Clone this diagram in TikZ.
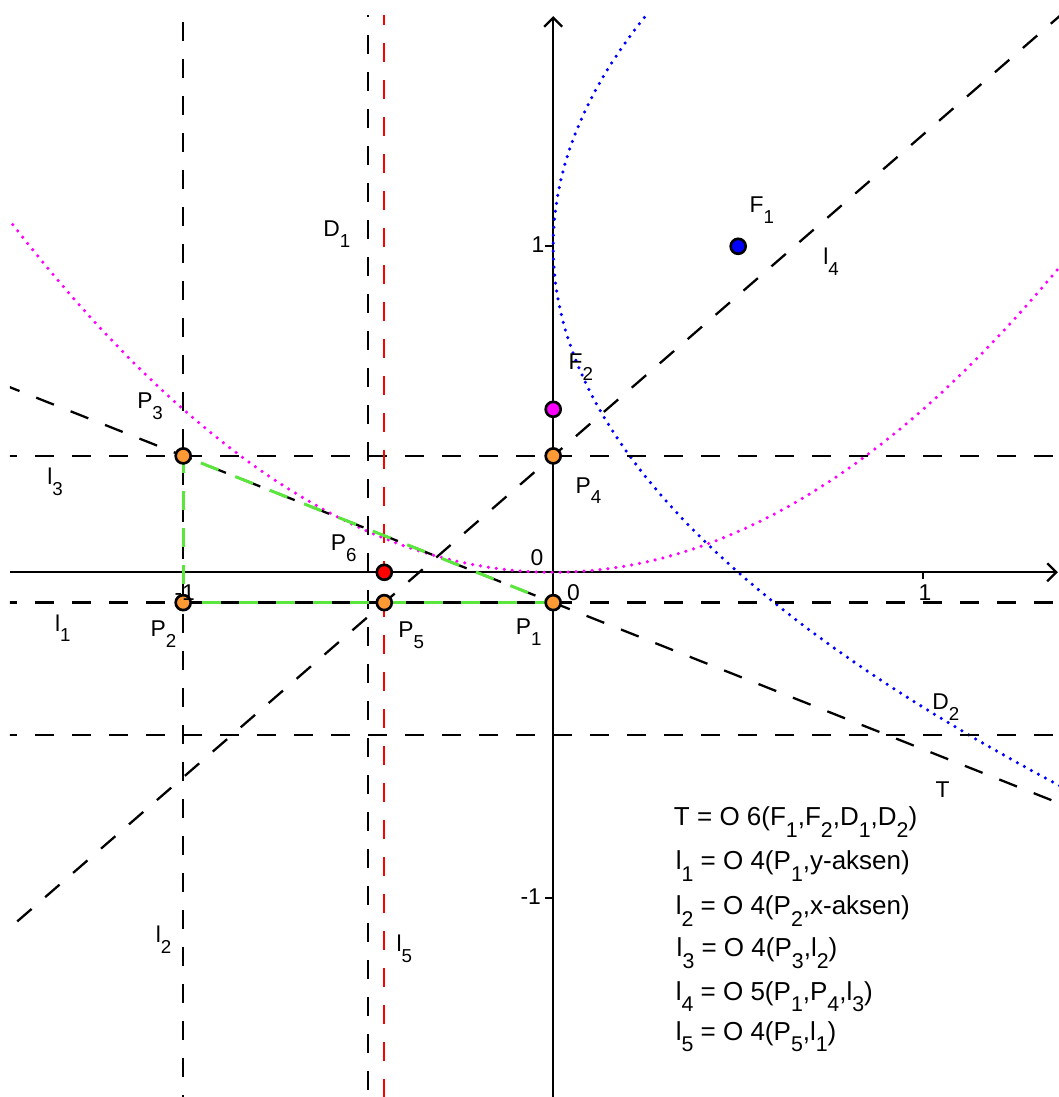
\documentclass[tikz,border=0pt]{standalone}
\usepackage{fontspec}
\setmainfont{Liberation Sans}
\usetikzlibrary{arrows.meta, calc}
\definecolor{ptorange}{RGB}{255,153,51}
\definecolor{foldgreen}{RGB}{90,230,60}
\definecolor{parpink}{RGB}{255,0,255}
\newcommand{\ix}[1]{\raisebox{-0.45em}{\scalebox{0.82}{#1}}}

\begin{document}
\begin{tikzpicture}[x=3.70cm, y=3.26cm,
  fold/.style={line width=0.65pt, dash pattern=on 0.19cm off 0.18cm},
  seg/.style={foldgreen, line width=0.85pt, dash pattern=on 0.19cm off 0.18cm, dash phase=0.18cm},
  curve/.style={line width=1pt, line cap=round, dash pattern=on 0pt off 0.08cm},
  ax/.style={line width=0.65pt},
  ptmark/.style={draw=black, line width=0.75pt},
  lab/.style={anchor=base west, inner sep=0pt, font=\fontsize{6.5}{7.5}\selectfont},
  eq/.style={anchor=base west, inner sep=0pt, font=\fontsize{7.4}{8.8}\selectfont}
]
  \useasboundingbox[fill=white] (-1.4951,-1.6095) rectangle (1.3670,1.7555);

  % construction points
  \coordinate (P1) at (0,-0.093);
  \coordinate (P2) at (-1,-0.093);
  \coordinate (P3) at (-1,0.357);
  \coordinate (P4) at (0,0.357);
  \coordinate (P5) at (-0.4565,-0.093);
  \coordinate (P6) at (-0.4565,0);
  \coordinate (F1) at (0.5,1);
  \coordinate (F2) at (0,0.5);
  \coordinate (D1a) at (-0.5,-1.7);
  \coordinate (D1b) at (-0.5,1.8);
  \coordinate (D2a) at (-1.6,-0.5);
  \coordinate (D2b) at (1.5,-0.5);
  \coordinate (xl) at (-1.4681,0);
  \coordinate (xr) at (1.364,0);
  \coordinate (yb) at (0,-1.6095);
  \coordinate (yt) at (0,1.706);

  \begin{scope}
    \clip (-1.4681,-1.6095) rectangle (1.3670,1.7095);
    % axes
    \draw[ax, -{Straight Barb[length=0.9mm, width=1.8mm]}] (xl) -- (xr);
    \draw[ax, -{Straight Barb[length=0.9mm, width=1.8mm]}] (yb) -- (yt);
    \foreach \t in {-1,1} {
      \draw[ax] (\t,0) -- (\t,-0.0215);
      \draw[ax] (0,\t) -- (-0.0216,\t);
    }
    % the two parabolas
    \draw[curve, parpink] plot[domain=-1.5:1.4, samples=80] (\x, {\x*\x/2});
    \draw[curve, blue] plot[domain=-0.7:1.72, samples=80, variable=\t] ({(\t-1)*(\t-1)/2}, \t);
    % directrices
    \draw[fold] (D1a) -- (D1b);
    \draw[fold] (D2a) -- (D2b);
    % folds
    \draw[fold] ($(P3)!-3!(P1)$) -- ($(P1)!-3!(P3)$);
    \draw[fold] ($(P2)!-3!(P1)$) -- ($(P1)!-3!(P2)$);
    \draw[fold] ($(P2)!-5!(P3)$) -- ($(P3)!-5!(P2)$);
    \draw[fold] ($(P3)!-3!(P4)$) -- ($(P4)!-3!(P3)$);
    \draw[fold] ($(P5)!-3!(P4)$) -- ($(P4)!-3!(P5)$);
    \draw[fold, red] ($(P5)!-20!(P6)$) -- ($(P6)!-20!(P5)$);
    % triangle
    \draw[seg] (P2) -- (P1);
    \draw[seg] (P2) -- (P3);
    \draw[seg] (P3) -- (P1);
  \end{scope}

  % points
  \foreach \p in {P1,P2,P3,P4,P5}
    \filldraw[ptmark, fill=ptorange] (\p) circle[radius=0.075cm];
  \filldraw[ptmark, fill=red] (P6) circle[radius=0.075cm];
  \filldraw[ptmark, fill=blue] (F1) circle[radius=0.075cm];
  \filldraw[ptmark, fill=parpink] (F2) circle[radius=0.075cm];

  % axis numbers
  \node[lab] (nx1) at (0.986,-0.085) {1};
  \node[lab] (nxm1) at (-1.025,-0.085) {-1};
  \node[lab] (ny1) at (-0.060,0.980) {1};
  \node[lab] (nym1) at (-0.090,-1.020) {-1};
  \node[lab] (zeroa) at (-0.063,0.022) {0};
  \node[lab] (zerob) at (0.036,-0.085) {0};

  % labels
  \node[lab] (labD1) at (-0.623,1.029) {D\ix{1}};
  \node[lab] (labF1) at (0.529,1.103) {F\ix{1}};
  \node[lab] (labl4) at (0.728,0.943) {l\ix{4}};
  \node[lab] (labF2) at (0.040,0.621) {F\ix{2}};
  \node[lab] (labP3) at (-1.126,0.501) {P\ix{3}};
  \node[lab] (labP4) at (0.059,0.243) {P\ix{4}};
  \node[lab] (labl3) at (-1.369,0.268) {l\ix{3}};
  \node[lab] (labP6) at (-0.603,0.066) {P\ix{6}};
  \node[lab] (labl1) at (-1.348,-0.182) {l\ix{1}};
  \node[lab] (labP2) at (-1.090,-0.198) {P\ix{2}};
  \node[lab] (labP5) at (-0.420,-0.2015) {P\ix{5}};
  \node[lab] (labP1) at (-0.103,-0.192) {P\ix{1}};
  \node[lab] (labD2) at (1.023,-0.422) {D\ix{2}};
  \node[lab] (labT) at (1.032,-0.691) {T};
  \node[lab] (labl2) at (-1.076,-1.137) {l\ix{2}};
  \node[lab] (labl5) at (-0.425,-1.164) {l\ix{5}};

  % fold list
  \node[eq] (eqT) at (0.3246,-0.7776) {T = O 6(F\ix{1},F\ix{2},D\ix{1},D\ix{2})};
  \node[eq] (eql1) at (0.3295,-0.9126) {l\ix{1} = O 4(P\ix{1},y-aksen)};
  \node[eq] (eql2) at (0.3295,-1.0506) {l\ix{2} = O 4(P\ix{2},x-aksen)};
  \node[eq] (eql3) at (0.3320,-1.1785) {l\ix{3} = O 4(P\ix{3},l\ix{2})};
  \node[eq] (eql4) at (0.3295,-1.3120) {l\ix{4} = O 5(P\ix{1},P\ix{4},l\ix{3})};
  \node[eq] (eql5) at (0.3295,-1.4347) {l\ix{5} = O 4(P\ix{5},l\ix{1})};
\end{tikzpicture}
\end{document}
